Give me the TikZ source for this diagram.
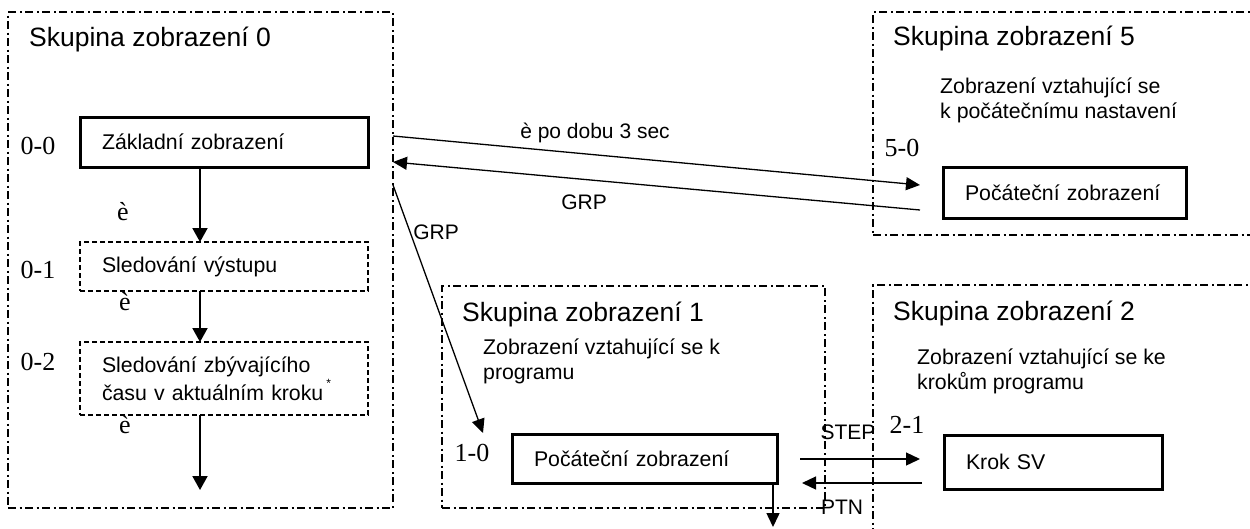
\documentclass[tikz,border=0pt]{standalone}
\usepackage{fontspec}
\setmainfont{Liberation Sans}
\newfontfamily\serifnum{Liberation Serif}
\usetikzlibrary{arrows.meta,calc}
\newcommand\titlefont{\fontsize{26.5}{30}\selectfont}
\newcommand\bodyfont{\fontsize{21.3}{25}\selectfont}
\newcommand\numfont{\serifnum\fontsize{26}{28}\selectfont}
\newcommand\lblfont{\fontsize{21}{24}\selectfont}
\begin{document}
\begin{tikzpicture}[x=1pt,y=-1pt,
  grp/.style={draw, line width=2.2pt, dash pattern=on 8pt off 3.5pt on 2pt off 3.5pt, inner sep=0pt, outer sep=0pt, anchor=north west},
  solidbox/.style={draw, line width=3pt, inner xsep=22pt, inner ysep=0pt, outer sep=0pt, align=left, font=\bodyfont},
  dashbox/.style={draw, line width=1.3pt, dash pattern=on 5pt off 3pt, inner xsep=22pt, inner ysep=0pt, outer sep=0pt, align=left, font=\bodyfont},
  gtitle/.style={anchor=base west, inner sep=0pt, font=\titlefont},
  desc/.style={anchor=base west, inner sep=0pt, align=left, font=\bodyfont},
  num/.style={inner sep=0pt, font=\numfont},
  lbl/.style={inner sep=0pt, font=\lblfont},
  varr/.style={-{Triangle[length=14pt,width=15pt]}, line width=2pt},
  arr/.style={-{Triangle[length=14pt,width=13pt]}, line width=1.3pt}
]
\useasboundingbox (0,0) rectangle (1250,528);
\clip (0,0) rectangle (1250,528);

% groups
\node[grp, minimum width=385pt, minimum height=496pt] (g0) at (8,12) {};
\node[grp, minimum width=383pt, minimum height=222pt] (g1) at (442,286) {};
\node[grp, minimum width=397pt, minimum height=255pt] (g2) at (873,285) {};
\node[grp, minimum width=397pt, minimum height=223pt] (g5) at (873,12) {};

% group titles
\node[gtitle] (t0) at (29,46) {Skupina zobrazení 0};
\node[gtitle] (t1) at (462,321) {Skupina zobrazení 1};
\node[gtitle] (t2) at (893,320) {Skupina zobrazení 2};
\node[gtitle] (t5) at (893,45) {Skupina zobrazení 5};

% descriptions (base = baseline of the last line)
\node[desc] (d1) at (483,379) {Zobrazení vztahující se k\\programu};
\node[desc] (d2) at (917,389) {Zobrazení vztahující se ke\\krokům programu};
\node[desc] (d5) at (940,118) {Zobrazení vztahující se\\k počátečnímu nastavení};

% boxes
\node[solidbox, text width=244pt, minimum height=50pt] (n00) at (224,142) {Základní zobrazení};
\node[dashbox, text width=244pt, minimum height=49pt] (n01) at (224,266.5) {Sledování výstupu};
\node[dashbox, text width=244pt, minimum height=73pt] (n02) at (224,378.5)
  {Sledování zbývajícího\\[1pt]času v aktuálním kroku\hspace{3pt}\raisebox{13pt}{\fontsize{12}{12}\selectfont *}};
\node[solidbox, text width=221pt, minimum height=49pt] (n10) at (644.5,458.5) {Počáteční zobrazení};
\node[solidbox, text width=174pt, minimum height=54pt] (n21) at (1053,462) {Krok SV};
\node[solidbox, text width=199pt, minimum height=51pt] (n50) at (1064.5,192.5) {Počáteční zobrazení};

% serif labels
\node[num] (l00) at (38,146) {0-0};
\node[num] (l01) at (38,270) {0-1};
\node[num] (l02) at (38,362) {0-2};
\node[num] (l10) at (472,453) {1-0};
\node[num] (l21) at (907,425) {2-1};
\node[num] (l50) at (902,148) {5-0};
\node[num] (e1) at (123,212) {è};
\node[num] (e2) at (125,302) {è};
\node[num] (e3) at (125,425) {è};

% vertical arrows in group 0
\coordinate (ax) at (200,0);
\coordinate (exit0) at (200,490);
\draw[varr] (n00.south -| ax) -- (n01.north -| ax);
\draw[varr] (n01.south -| ax) -- (n02.north -| ax);
\draw[varr] (n02.south -| ax) -- (exit0);

% arrows between groups
\coordinate (a1s) at (393,136);
\coordinate (a1e) at (920,185);
\coordinate (a2s) at (920,210);
\coordinate (a2e) at (393,162);
\coordinate (a3s) at (393,185);
\coordinate (a3e) at (483,433);
\coordinate (exit1) at (773,527);
\draw[arr] (a1s) -- (a1e);
\draw[arr] (a2s) -- (a2e);
\draw[arr] (a3s) -- (a3e);
\node[lbl] (k1) at (595,133) {è po dobu 3 sec};
\node[lbl] (k2) at (584,202) {GRP};
\node[lbl] (k3) at (436,232) {GRP};

\draw[arr, shorten <=23pt, shorten >=24pt] (n10.east |- 0,459) -- (n21.west |- 0,459);
\draw[arr, shorten <=22pt, shorten >=25pt] (n10.south east -| n21.west) -- (n10.south east);
\node[lbl] (k4) at (848,432) {STEP};
\node[lbl] (k5) at (842,507) {PTN};

\draw[arr, line width=1.5pt] (n10.south -| exit1) -- (exit1);
\end{tikzpicture}
\end{document}
